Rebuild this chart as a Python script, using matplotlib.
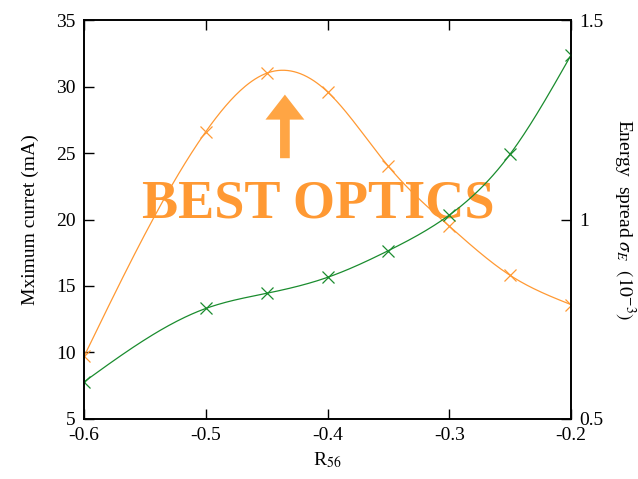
import numpy as np
import matplotlib
matplotlib.use('Agg')
import matplotlib.pyplot as plt

# data
r56 = [-0.6, -0.5, -0.45, -0.4, -0.35, -0.3, -0.25, -0.2]
max_current = [9.7, 26.6, 31.0, 29.6, 24.0, 19.5, 15.8, 13.6]  # mA, left axis
energy_spread = [0.593, 0.777, 0.815, 0.855, 0.922, 1.011, 1.164, 1.412]  # 1e-3, right axis

x_ticks = [-0.6, -0.5, -0.4, -0.3, -0.2]
x_ticklabels = ['-0.6', '-0.5', '-0.4', '-0.3', '-0.2']
left_ticks = [5, 10, 15, 20, 25, 30, 35]
right_ticks = [0.5, 1, 1.5]
right_ticklabels = ['0.5', '1', '1.5']

orange = '#ff9933'
green = '#1a8c2e'


def spline(x, y, n=300):
    # natural cubic spline, just for the smooth line between the markers
    x = np.asarray(x, float)
    y = np.asarray(y, float)
    h = np.diff(x)
    m = len(x)
    A = np.zeros((m, m))
    b = np.zeros(m)
    A[0, 0] = A[-1, -1] = 1
    for i in range(1, m - 1):
        A[i, i - 1] = h[i - 1]
        A[i, i] = 2 * (h[i - 1] + h[i])
        A[i, i + 1] = h[i]
        b[i] = 6 * ((y[i + 1] - y[i]) / h[i] - (y[i] - y[i - 1]) / h[i - 1])
    M = np.linalg.solve(A, b)
    xs = np.linspace(x[0], x[-1], n)
    k = np.clip(np.searchsorted(x, xs) - 1, 0, m - 2)
    t0 = x[k + 1] - xs
    t1 = xs - x[k]
    hk = h[k]
    ys = (M[k] * t0 ** 3 / (6 * hk) + M[k + 1] * t1 ** 3 / (6 * hk)
          + (y[k] / hk - M[k] * hk / 6) * t0 + (y[k + 1] / hk - M[k + 1] * hk / 6) * t1)
    return xs, ys


plt.rcParams['font.family'] = ['Liberation Serif', 'DejaVu Serif']
plt.rcParams['mathtext.fontset'] = 'stix'

fig = plt.figure(figsize=(6.38, 4.79), dpi=100)
ax = fig.add_axes([0.1317, 0.1253, 0.7633, 0.8329])
ax2 = ax.twinx()

xs, ys = spline(r56, max_current)
ax.plot(xs, ys, color=orange, lw=0.9)
ax.plot(r56, max_current, 'x', color=orange, ms=9, mew=0.9)

xs, ys = spline(r56, energy_spread)
ax2.plot(xs, ys, color=green, lw=0.9)
ax2.plot(r56, energy_spread, 'x', color=green, ms=9, mew=0.9)

ax.set_xlim(-0.6, -0.2)
ax.set_ylim(5, 35)
ax2.set_ylim(0.5, 1.5)

ax.set_xticks(x_ticks)
ax.set_xticklabels(x_ticklabels)
ax.set_yticks(left_ticks)
ax2.set_yticks(right_ticks)
ax2.set_yticklabels(right_ticklabels)

ax.tick_params(axis='x', direction='in', top=True, length=7, width=1,
               labelsize=14, pad=6)
ax.tick_params(axis='y', direction='in', right=False, length=7, width=1,
               labelsize=14, pad=6)
ax2.tick_params(axis='y', direction='in', length=7, width=1,
                labelsize=14, pad=6)
for a in (ax, ax2):
    for s in a.spines.values():
        s.set_linewidth(1.2)

ax.set_xlabel(r'R$_{56}$', fontsize=14, labelpad=4)
ax.set_ylabel('Mximum curret (mA)', fontsize=14, labelpad=12)
ax2.set_ylabel(r'Energy  spread $\sigma_E$  $(10^{-3})$', fontsize=14,
               rotation=-90, labelpad=24)

ax.text(-0.408, 21.1, 'BEST OPTICS', color=orange, fontsize=39,
        fontweight='bold', ha='center', va='center')
ax.annotate('', xy=(-0.435, 29.6), xytext=(-0.435, 24.4),
            arrowprops=dict(arrowstyle='simple,head_length=0.9,head_width=1.4,tail_width=0.35',
                            color='#ffa544', lw=0, mutation_scale=20))

fig.savefig('out.png', dpi=100)
